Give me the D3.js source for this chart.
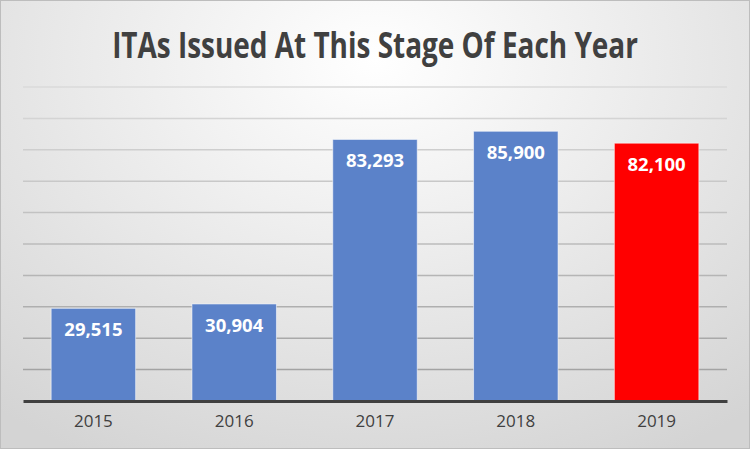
<!DOCTYPE html>
<html><head><meta charset="utf-8">
<script src="https://cdn.jsdelivr.net/npm/d3@7"></script>
<style>html,body{margin:0;padding:0;background:#fff;}svg{display:block;}</style>
</head><body>
<svg id="chart" width="750" height="449"></svg>
<script>
const title = "ITAs Issued At This Stage Of Each Year";
const categories = ["2015", "2016", "2017", "2018", "2019"];
const values = [29515, 30904, 83293, 85900, 82100];
const valueLabels = ["29,515", "30,904", "83,293", "85,900", "82,100"];
const barColors = ["#5b82c9", "#5b82c9", "#5b82c9", "#5b82c9", "#ff0000"];
const yTicks = [10000, 20000, 30000, 40000, 50000, 60000, 70000, 80000, 90000, 100000];

(function () {
const W = 750, H = 449;
const svg = d3.select("#chart");
const defs = svg.append("defs");
const rg = defs.append("radialGradient").attr("id", "bg")
  .attr("gradientUnits", "userSpaceOnUse")
  .attr("cx", 375).attr("cy", 60).attr("r", 600)
  .attr("gradientTransform", "translate(375,60) scale(1,0.75) translate(-375,-60)");
rg.append("stop").attr("offset", "0").attr("stop-color", "#ffffff");
rg.append("stop").attr("offset", "0.35").attr("stop-color", "#f0f0f0");
rg.append("stop").attr("offset", "1").attr("stop-color", "#d4d4d4");

svg.append("rect").attr("x", 0.5).attr("y", 0.5).attr("width", W - 1).attr("height", H - 1)
  .attr("fill", "url(#bg)").attr("stroke", "#bdbdbd").attr("stroke-width", 1);

const pLeft = 23, pRight = 727, pTop = 87, pBottom = 401;
const x = d3.scaleBand().domain(categories).range([pLeft, pRight]).paddingInner(0.4).paddingOuter(0.2);
const y = d3.scaleLinear().domain([0, 100000]).range([pBottom, pTop]);

const gridColor = d3.scaleLinear().domain([100000, 10000]).range(["#dadada", "#a3a3a3"]);
svg.append("g").selectAll("line").data(yTicks).join("line")
  .attr("x1", pLeft).attr("x2", pRight)
  .attr("y1", d => y(d)).attr("y2", d => y(d))
  .attr("stroke", d => gridColor(d)).attr("stroke-width", 1.5);

svg.append("g").selectAll("rect").data(values).join("rect")
  .attr("x", (d, i) => x(categories[i]))
  .attr("y", d => y(d))
  .attr("width", x.bandwidth())
  .attr("height", d => pBottom - y(d))
  .attr("fill", (d, i) => barColors[i])
  .attr("stroke", "rgba(255,255,255,0.55)").attr("stroke-width", 1);

svg.append("g").selectAll("text").data(values).join("text")
  .attr("x", (d, i) => x(categories[i]) + x.bandwidth() / 2)
  .attr("y", d => y(d) + 28)
  .attr("text-anchor", "middle")
  .attr("font-family", "'Open Sans', sans-serif")
  .attr("font-weight", "bold")
  .attr("font-size", 18.5)
  .attr("fill", "#ffffff")
  .text((d, i) => valueLabels[i]);

const xAxis = d3.axisBottom(x).tickSize(0).tickPadding(14);
const ax = svg.append("g").attr("transform", `translate(0,${pBottom})`).call(xAxis);
ax.select(".domain").attr("stroke", "#404040").attr("stroke-width", 3);
ax.selectAll("text")
  .attr("font-family", "'Open Sans', sans-serif")
  .attr("font-size", 17)
  .attr("fill", "#404040");

const tg = svg.append("g");
const t = tg.append("text")
  .attr("x", 0).attr("y", 0)
  .attr("text-anchor", "middle")
  .attr("font-family", "'Open Sans', sans-serif")
  .attr("font-weight", "bold")
  .attr("font-size", 35)
  .attr("fill", "#404040")
  .text(title);
const natural = t.node().getComputedTextLength();
const sx = Math.min(1, 526 / natural);
tg.attr("transform", `translate(375,58) scale(${sx},1)`);
})();
</script>
</body></html>
